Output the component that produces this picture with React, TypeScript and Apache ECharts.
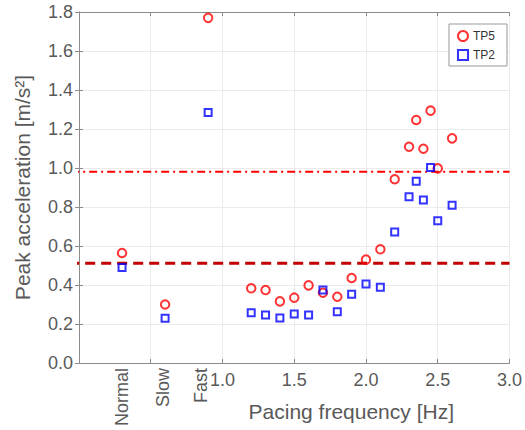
import React, { useEffect, useRef } from "react";
import * as echarts from "echarts";

// ---- data ----
const conditionNames = ["Normal", "Slow", "Fast"];
const conditionX = [0.3, 0.6, 0.9];
const conditionLabelX = [0.3, 0.585, 0.85];
const tp5Conditions = [0.564, 0.3, 1.77];
const tp2Conditions = [0.49, 0.23, 1.284];

const frequencies = [1.2, 1.3, 1.4, 1.5, 1.6, 1.7, 1.8, 1.9, 2.0, 2.1, 2.2, 2.3, 2.35, 2.4, 2.45, 2.5, 2.6];
const tp5Values = [0.383, 0.374, 0.316, 0.335, 0.398, 0.36, 0.34, 0.436, 0.53, 0.583, 0.942, 1.109, 1.246, 1.099, 1.294, 0.998, 1.152];
const tp2Values = [0.258, 0.246, 0.231, 0.251, 0.246, 0.374, 0.263, 0.352, 0.405, 0.388, 0.672, 0.853, 0.932, 0.836, 1.003, 0.73, 0.809];

const xTickValues = [1.0, 1.5, 2.0, 2.5, 3.0];
const refHigh = 0.981;
const refLow = 0.511;
const refLineX = [-0.18, 3.0];

const GRAY_TEXT = "#595959";
const AXIS = "#8c8c8c";

function conditionName(v: number): string {
  let best = 0;
  for (let i = 1; i < conditionLabelX.length; i++) {
    if (Math.abs(conditionLabelX[i] - v) < Math.abs(conditionLabelX[best] - v)) best = i;
  }
  return conditionNames[best];
}

export default function App() {
  const ref = useRef<HTMLDivElement>(null);
  useEffect(() => {
    if (!ref.current) return;
    const chart = echarts.init(ref.current, null, { renderer: "svg" });
    const tp5 = [
      ...conditionX.map((x, i) => [x, tp5Conditions[i]]),
      ...frequencies.map((x, i) => [x, tp5Values[i]]),
    ];
    const tp2 = [
      ...conditionX.map((x, i) => [x, tp2Conditions[i]]),
      ...frequencies.map((x, i) => [x, tp2Values[i]]),
    ];
    chart.setOption({
      animation: false,
      textStyle: { fontFamily: "Liberation Sans, Arial, sans-serif" },
      grid: { left: 79, right: 2, top: 12, bottom: 67 },
      legend: {
        data: ["TP5", "TP2"],
        orient: "vertical",
        right: 18,
        top: 24,
        backgroundColor: "#fff",
        borderColor: "#999",
        borderWidth: 1,
        padding: [6, 12, 5, 8],
        itemWidth: 10,
        itemHeight: 10,
        itemGap: 7,
        textStyle: { fontSize: 12, color: "#333" },
      },
      xAxis: [
        {
          type: "value",
          min: 0,
          max: 3,
          interval: 0.5,
          position: "bottom",
          name: "Pacing frequency [Hz]",
          nameLocation: "middle",
          nameGap: 38,
          nameTextStyle: { fontSize: 21, color: GRAY_TEXT, padding: [0, 0, 0, 114] },
          axisLine: { show: true, lineStyle: { color: AXIS } },
          axisTick: { show: true, inside: true, length: 4, lineStyle: { color: AXIS } },
          axisLabel: {
            customValues: xTickValues,
            formatter: (v: number) => v.toFixed(1),
            fontSize: 18,
            color: GRAY_TEXT,
            margin: 8,
          },
          splitLine: { show: true, lineStyle: { color: "#ebebeb" } },
        },
        {
          type: "value",
          min: 0,
          max: 3,
          position: "bottom",
          axisLine: { show: false },
          axisTick: { show: false },
          splitLine: { show: false },
          axisLabel: {
            show: true,
            customValues: conditionLabelX,
            formatter: (v: number) => conditionName(v),
            rotate: 90,
            fontSize: 18,
            color: GRAY_TEXT,
            margin: 5,
          },
        },
        {
          type: "value",
          min: 0,
          max: 3,
          interval: 0.5,
          position: "top",
          axisLine: { show: true, lineStyle: { color: AXIS } },
          axisTick: { show: true, inside: true, length: 4, lineStyle: { color: AXIS } },
          axisLabel: { show: false },
          splitLine: { show: false },
        },
      ],
      yAxis: [
        {
          type: "value",
          min: 0,
          max: 1.8,
          interval: 0.2,
          name: "Peak acceleration [m/s²]",
          nameLocation: "middle",
          nameGap: 46,
          nameTextStyle: { fontSize: 21, color: GRAY_TEXT },
          axisLine: { show: true, lineStyle: { color: AXIS } },
          axisTick: { show: true, inside: true, length: 4, lineStyle: { color: AXIS } },
          axisLabel: { formatter: (v: number) => v.toFixed(1), fontSize: 18, color: GRAY_TEXT, margin: 6 },
          splitLine: { show: true, lineStyle: { color: "#ebebeb" } },
        },
        {
          type: "value",
          min: 0,
          max: 1.8,
          interval: 0.2,
          position: "right",
          axisLine: { show: true, lineStyle: { color: AXIS } },
          axisTick: { show: true, inside: true, length: 4, lineStyle: { color: AXIS } },
          axisLabel: { show: false },
          splitLine: { show: false },
        },
      ],
      series: [
        {
          name: "refHigh",
          type: "line",
          clip: false,
          symbol: "none",
          data: refLineX.map((x) => [x, refHigh]),
          lineStyle: { color: "#ff0000", width: 2, type: [8, 4, 2, 4] },
          z: 1,
        },
        {
          name: "refLow",
          type: "line",
          clip: false,
          symbol: "none",
          data: refLineX.map((x) => [x, refLow]),
          lineStyle: { color: "#c00000", width: 3, type: [10, 6] },
          z: 1,
        },
        {
          name: "TP5",
          type: "scatter",
          symbol: "circle",
          symbolSize: 8.5,
          data: tp5,
          itemStyle: { color: "rgba(255,255,255,0)", borderColor: "#ff0000", borderWidth: 2 },
          z: 3,
        },
        {
          name: "TP2",
          type: "scatter",
          symbol: "rect",
          symbolSize: 7,
          data: tp2,
          itemStyle: { color: "rgba(255,255,255,0)", borderColor: "#0000ff", borderWidth: 2 },
          z: 4,
        },
      ],
    });
    return () => chart.dispose();
  }, []);
  return (
    <div
      ref={ref}
      style={{ position: "fixed", left: 0, top: 0, width: 525, height: 430, background: "#fff" }}
    />
  );
}
